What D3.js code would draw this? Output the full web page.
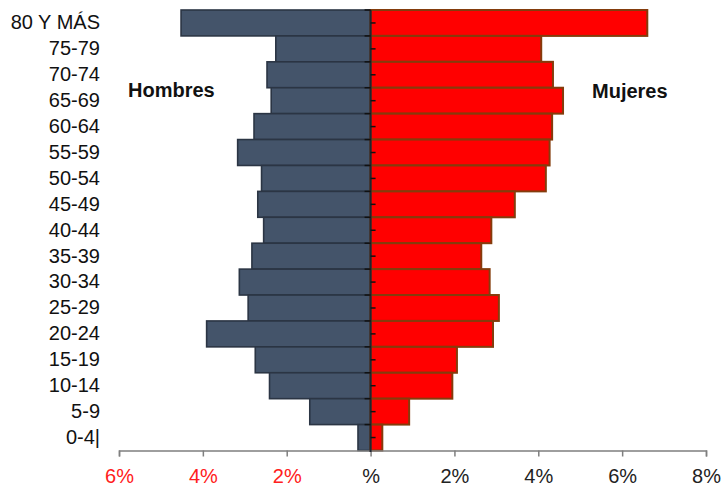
<!DOCTYPE html>
<html>
<head>
<meta charset="utf-8">
<script src="https://cdn.jsdelivr.net/npm/d3@7"></script>
<style>
  body { margin: 0; background: #fff; }
  svg { display: block; font-family: "Liberation Sans", Arial, sans-serif; }
</style>
</head>
<body>
<svg id="chart" width="722" height="487"></svg>
<script>
const categories = ["80 Y MÁS","75-79","70-74","65-69","60-64","55-59","50-54","45-49","40-44","35-39","30-34","25-29","20-24","15-19","10-14","5-9","0-4|"];
const hombres = [4.52,2.26,2.47,2.37,2.78,3.17,2.60,2.69,2.55,2.83,3.13,2.92,3.91,2.75,2.41,1.45,0.30];
const mujeres = [6.60,4.07,4.35,4.59,4.33,4.27,4.18,3.44,2.88,2.64,2.84,3.06,2.92,2.06,1.95,0.92,0.28];
const xTicks = [-6,-4,-2,0,2,4,6,8];
const xTickLabels = ["6%","4%","2%","%","2%","4%","6%","8%"];

const svg = d3.select("#chart");
const x = d3.scaleLinear().domain([-6, 8]).range([119, 706]);
const y = d3.scaleBand().domain(categories).range([10, 450.5]).padding(0);

// male bars
svg.append("g").selectAll("rect").data(categories).join("rect")
  .attr("x", (d,i) => x(-hombres[i]))
  .attr("y", d => y(d))
  .attr("width", (d,i) => x(0) - x(-hombres[i]))
  .attr("height", y.bandwidth())
  .attr("fill", "#44546a")
  .attr("stroke", "#2b3544")
  .attr("stroke-width", 1.6);

// female bars
svg.append("g").selectAll("rect").data(categories).join("rect")
  .attr("x", x(0))
  .attr("y", d => y(d))
  .attr("width", (d,i) => x(mujeres[i]) - x(0))
  .attr("height", y.bandwidth())
  .attr("fill", "#ff0000")
  .attr("stroke", "#843c0c")
  .attr("stroke-width", 2);

// x axis
const xAxis = svg.append("g")
  .attr("transform", "translate(0,450.5)")
  .call(d3.axisBottom(x).tickValues(xTicks).tickSize(6).tickPadding(12)
        .tickFormat((d,i) => xTickLabels[i]));
xAxis.select(".domain").attr("stroke", "#7f7f7f").attr("stroke-width", 1.5);
xAxis.selectAll(".tick line").attr("stroke", "#7f7f7f").attr("stroke-width", 1.5);
xAxis.selectAll(".tick text")
  .attr("font-size", 20)
  .attr("font-family", "Liberation Sans, Arial, sans-serif")
  .attr("fill", d => d < 0 ? "#ff2020" : "#222");

// center vertical axis with ticks
const cx = x(0);
svg.append("line").attr("x1", cx).attr("x2", cx).attr("y1", 10).attr("y2", 452)
  .attr("stroke", "#1f2530").attr("stroke-width", 2);
svg.append("g").selectAll("line").data(categories).join("line")
  .attr("x1", cx - 6).attr("x2", cx)
  .attr("y1", d => y(d)).attr("y2", d => y(d))
  .attr("stroke", "#111").attr("stroke-width", 1.5);
svg.append("g").selectAll("line").data(categories).join("line")
  .attr("x1", cx).attr("x2", cx + 5)
  .attr("y1", d => y(d) + y.bandwidth()/2).attr("y2", d => y(d) + y.bandwidth()/2)
  .attr("stroke", "#111").attr("stroke-width", 1.5);

// category labels
const yAxis = svg.append("g")
  .attr("transform", "translate(100,0)")
  .call(d3.axisLeft(y).tickSize(0).tickPadding(0));
yAxis.select(".domain").remove();
yAxis.selectAll(".tick text")
  .attr("font-size", 20)
  .attr("font-family", "Liberation Sans, Arial, sans-serif")
  .attr("fill", "#111");

// series labels
svg.append("text").attr("x", 128).attr("y", 97).text("Hombres")
  .attr("font-size", 20).attr("font-weight", "bold").attr("fill", "#111");
svg.append("text").attr("x", 592).attr("y", 98).text("Mujeres")
  .attr("font-size", 20).attr("font-weight", "bold").attr("fill", "#111");
</script>
</body>
</html>
